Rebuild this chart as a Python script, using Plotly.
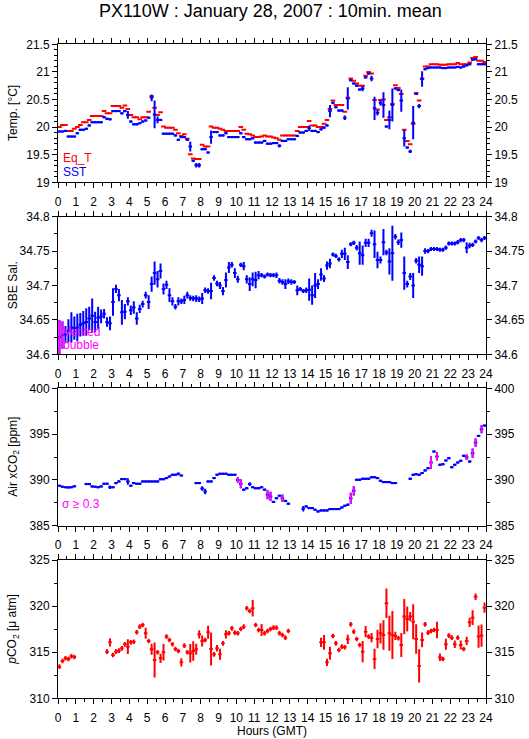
import plotly.graph_objects as go

# ---------------- data (10-min means, 144 slots) ----------------
HOURS = [(i + 0.5) / 6 for i in range(144)]

EQ_T = [
    20.00, 20.04, 20.04, 19.93, 19.93, 19.97,
    20.00, 20.04, 20.09, 20.09, 20.13, 20.20,
    20.20, 20.20, 20.20, 20.29, 20.25, 20.25,
    20.38, 20.38, 20.38, 20.35, 20.39, 20.33,
    20.22, 20.18, 20.18, 20.14, 20.18, 20.18,
    20.28, 20.56, 20.35, 20.22, 20.27, 20.01,
    19.99, 19.99, 19.99, 19.95, 19.89, 19.84,
    19.87, 19.79, 19.51, 19.43, 19.42, 19.42,
    19.68, 19.65, 19.65, 20.01, 19.99, 19.99,
    19.97, 19.95, 19.93, 19.93, 19.93, 19.93,
    19.93, 20.00, 19.95, 19.88, 19.87, 19.85,
    19.82, 19.82, 19.83, 19.85, 19.83, 19.83,
    19.81, 19.80, 19.77, 19.85, 19.85, 19.85,
    19.85, 19.85, 19.93, 20.00, 20.00, 20.00,
    20.11, 20.03, 20.03, 20.00, 20.00, 20.06,
    20.13, 20.33, 20.48, 20.40, 20.40, 20.40,
    20.28, 20.53, 20.88, 20.84, 20.79, 20.75,
    20.75, 20.93, 21.00, 20.97, 20.49, 20.32,
    20.49, 20.50, 20.13, 20.18, 20.42, 20.76,
    20.71, 20.60, 19.95, 19.75, 19.69, 20.06,
    20.62, 20.48, 20.88, 21.10, 21.10, 21.14,
    21.14, 21.14, 21.13, 21.13, 21.13, 21.14,
    21.14, 21.14, 21.16, 21.14, 21.14, 21.14,
    21.17, 21.25, 21.27, 21.20, 21.20, 21.18,
]

SST = [
    19.92, 19.92, 19.93, 19.83, 19.83, 19.83,
    19.89, 19.95, 19.95, 19.97, 20.03, 20.09,
    20.09, 20.09, 20.09, 20.18, 20.15, 20.14,
    20.29, 20.29, 20.29, 20.25, 20.29, 20.22,
    20.10, 20.05, 20.05, 20.07, 20.10, 20.12,
    20.17, 20.53, 20.23, 20.13, 20.13, 19.88,
    19.88, 19.88, 19.88, 19.85, 19.77, 19.82,
    19.82, 19.77, 19.65, 19.39, 19.31, 19.31,
    19.60, 19.60, 19.54, 19.82, 19.91, 19.91,
    19.85, 19.85, 19.89, 19.82, 19.82, 19.82,
    19.82, 19.89, 19.82, 19.78, 19.78, 19.80,
    19.72, 19.72, 19.72, 19.75, 19.70, 19.70,
    19.71, 19.71, 19.66, 19.75, 19.75, 19.78,
    19.78, 19.78, 19.84, 19.90, 19.90, 19.93,
    19.98, 19.93, 19.93, 19.91, 19.96, 19.99,
    20.03, 20.29, 20.44, 20.36, 20.30, 20.30,
    20.17, 20.52, 20.85, 20.79, 20.75, 20.68,
    20.70, 20.90, 20.97, 20.88, 20.34, 20.26,
    20.44, 20.40, 20.01, 20.13, 20.40, 20.70,
    20.67, 20.48, 19.80, 19.63, 19.56, 20.08,
    20.60, 20.38, 20.87, 21.05, 21.07, 21.08,
    21.08, 21.08, 21.08, 21.07, 21.07, 21.08,
    21.08, 21.08, 21.09, 21.08, 21.10, 21.12,
    21.14, 21.22, 21.23, 21.14, 21.14, 21.14,
]

SST_ERR = [
    0.02, 0.02, 0.02, 0.02, 0.02, 0.02,
    0.02, 0.02, 0.02, 0.02, 0.02, 0.02,
    0.02, 0.02, 0.02, 0.02, 0.02, 0.02,
    0.02, 0.02, 0.02, 0.02, 0.02, 0.07,
    0.02, 0.02, 0.02, 0.02, 0.02, 0.02,
    0.02, 0.06, 0.25, 0.06, 0.02, 0.02,
    0.02, 0.02, 0.02, 0.02, 0.02, 0.02,
    0.02, 0.02, 0.09, 0.02, 0.04, 0.04,
    0.02, 0.02, 0.02, 0.12, 0.02, 0.02,
    0.02, 0.02, 0.02, 0.02, 0.02, 0.02,
    0.02, 0.02, 0.02, 0.02, 0.02, 0.02,
    0.02, 0.02, 0.02, 0.02, 0.02, 0.02,
    0.02, 0.02, 0.03, 0.02, 0.02, 0.02,
    0.02, 0.02, 0.02, 0.02, 0.02, 0.02,
    0.05, 0.02, 0.02, 0.02, 0.02, 0.02,
    0.02, 0.11, 0.02, 0.02, 0.02, 0.02,
    0.04, 0.20, 0.02, 0.02, 0.02, 0.02,
    0.05, 0.02, 0.02, 0.05, 0.21, 0.05,
    0.05, 0.23, 0.02, 0.17, 0.30, 0.02,
    0.02, 0.20, 0.15, 0.02, 0.03, 0.30,
    0.02, 0.04, 0.14, 0.02, 0.02, 0.02,
    0.02, 0.02, 0.02, 0.02, 0.02, 0.02,
    0.02, 0.02, 0.02, 0.02, 0.02, 0.02,
    0.02, 0.02, 0.02, 0.02, 0.02, 0.02,
]

SAL = [
    34.625, 34.628, 34.629, 34.634, 34.639, 34.638,
    34.639, 34.643, 34.645, 34.647, 34.652, 34.656,
    34.647, 34.653, 34.655, 34.659, 34.647, 34.645,
    34.676, 34.695, 34.686, 34.661, 34.662, 34.677,
    34.664, 34.668, 34.652, 34.666, 34.673, 34.686,
    34.676, 34.702, 34.718, 34.709, 34.721, 34.695,
    34.701, 34.686, 34.677, 34.669, 34.677, 34.677,
    34.679, 34.686, 34.682, 34.681, 34.681, 34.680,
    34.681, 34.693, 34.692, 34.692, 34.711, 34.703,
    34.700, 34.692, 34.708, 34.726, 34.730, 34.718,
    34.709, 34.730, 34.728, 34.709, 34.702, 34.709,
    34.708, 34.715, 34.715, 34.713, 34.716, 34.715,
    34.715, 34.715, 34.707, 34.705, 34.702, 34.706,
    34.705, 34.705, 34.693, 34.695, 34.692, 34.693,
    34.694, 34.686, 34.700, 34.702, 34.716, 34.710,
    34.729, 34.732, 34.745, 34.743, 34.738, 34.746,
    34.746, 34.734, 34.760, 34.762, 34.755, 34.747,
    34.744, 34.762, 34.762, 34.776, 34.760, 34.737,
    34.737, 34.763, 34.748, 34.735, 34.747, 34.771,
    34.763, 34.766, 34.718, 34.702, 34.713, 34.700,
    34.736, 34.730, 34.728, 34.750, 34.750, 34.753,
    34.753, 34.753, 34.752, 34.752, 34.755, 34.761,
    34.761, 34.761, 34.763, 34.766, 34.766, 34.755,
    34.758, 34.759, 34.764, 34.769, 34.766, 34.769,
]

SAL_ERR = [
    0.025, 0.020, 0.012, 0.017, 0.022, 0.017,
    0.020, 0.017, 0.018, 0.020, 0.017, 0.025,
    0.015, 0.016, 0.010, 0.007, 0.007, 0.010,
    0.020, 0.006, 0.009, 0.018, 0.011, 0.006,
    0.007, 0.009, 0.009, 0.006, 0.005, 0.005,
    0.010, 0.011, 0.017, 0.012, 0.011, 0.008,
    0.006, 0.010, 0.006, 0.004, 0.006, 0.004,
    0.006, 0.005, 0.004, 0.004, 0.005, 0.004,
    0.008, 0.004, 0.004, 0.012, 0.004, 0.004,
    0.005, 0.006, 0.011, 0.008, 0.004, 0.007,
    0.005, 0.003, 0.006, 0.006, 0.010, 0.010,
    0.012, 0.006, 0.003, 0.003, 0.003, 0.003,
    0.003, 0.004, 0.004, 0.004, 0.007, 0.004,
    0.004, 0.003, 0.007, 0.003, 0.003, 0.004,
    0.016, 0.014, 0.018, 0.007, 0.009, 0.005,
    0.006, 0.007, 0.003, 0.003, 0.003, 0.006,
    0.009, 0.010, 0.003, 0.003, 0.004, 0.017,
    0.014, 0.006, 0.006, 0.005, 0.020, 0.012,
    0.005, 0.019, 0.004, 0.019, 0.040, 0.004,
    0.004, 0.011, 0.024, 0.005, 0.005, 0.018,
    0.004, 0.012, 0.014, 0.004, 0.003, 0.003,
    0.003, 0.003, 0.003, 0.003, 0.003, 0.003,
    0.003, 0.003, 0.003, 0.003, 0.003, 0.008,
    0.004, 0.003, 0.003, 0.003, 0.003, 0.003,
]
SAL_BUBBLE = [0, 1]  # slots flagged "vented bubble"

N = None
XCO2 = [
    389.36, 389.25, 389.20, 389.18, 389.20, 389.30,
    N, N, N, 389.54, 389.54, 389.29,
    389.25, 389.20, 389.29, 389.58, 389.58, 389.20,
    389.20, 389.65, 389.83, 390.09, 390.09, 389.83,
    389.36, 389.65, 389.58, 389.58, 389.83, 389.83,
    389.83, 389.83, 389.83, 389.83, 390.08, 390.08,
    390.20, 390.37, 390.55, 390.55, 390.67, 390.48,
    N, N, N, N, 389.65, 389.65,
    389.07, 388.74, 389.83, 389.83, 390.20, 390.55,
    390.67, 390.67, 390.67, 390.55, 390.55, 390.55,
    390.00, 389.58, 388.93, 389.10, 389.54, 389.20,
    389.10, 389.10, 389.20, 388.93, 388.38, 388.20,
    387.60, 388.00, 388.27, 388.00, 387.70, 387.40,
    N, N, N, N, 386.85, 387.10,
    386.92, 386.92, 386.74, 386.56, 386.67, 386.67,
    386.67, 386.82, 386.82, 386.82, 386.82, 387.00,
    387.18, 387.29, 388.00, 388.81, 390.01, 390.01,
    390.12, 390.12, 390.12, 390.30, 390.30, 390.20,
    389.90, 389.76, 389.76, 389.76, 389.65, 389.65,
    N, N, N, N, 390.12, 390.55,
    390.63, 390.55, 390.74, 391.03, 391.28, 391.90,
    393.10, 392.56, 391.65, 391.72, 392.12, 392.37,
    391.39, 391.65, 391.90, 392.08, 392.63, 392.48,
    392.00, 392.92, 394.08, 394.80, 395.53, 395.93,
]

XCO2_ERR = [
    0.12, 0.12, 0.12, 0.12, 0.12, 0.12,
    0.12, 0.12, 0.12, 0.12, 0.12, 0.12,
    0.12, 0.12, 0.12, 0.12, 0.12, 0.20,
    0.12, 0.12, 0.12, 0.12, 0.12, 0.35,
    0.12, 0.12, 0.12, 0.12, 0.12, 0.12,
    0.12, 0.12, 0.12, 0.12, 0.12, 0.12,
    0.12, 0.12, 0.12, 0.12, 0.15, 0.12,
    0.12, 0.12, 0.12, 0.12, 0.12, 0.12,
    0.25, 0.30, 0.12, 0.12, 0.12, 0.12,
    0.12, 0.12, 0.12, 0.12, 0.12, 0.12,
    0.30, 0.50, 0.12, 0.12, 0.20, 0.12,
    0.12, 0.12, 0.12, 0.12, 0.50, 0.50,
    0.12, 0.12, 0.12, 0.40, 0.12, 0.12,
    0.12, 0.12, 0.12, 0.12, 0.30, 0.12,
    0.12, 0.12, 0.12, 0.12, 0.12, 0.12,
    0.12, 0.12, 0.12, 0.12, 0.12, 0.12,
    0.12, 0.12, 0.60, 0.50, 0.12, 0.12,
    0.12, 0.12, 0.12, 0.12, 0.12, 0.12,
    0.12, 0.12, 0.12, 0.12, 0.12, 0.12,
    0.12, 0.12, 0.12, 0.12, 0.12, 0.12,
    0.12, 0.12, 0.12, 0.12, 0.12, 0.70,
    0.12, 0.45, 0.12, 0.12, 0.12, 0.12,
    0.12, 0.12, 0.12, 0.12, 0.12, 0.30,
    0.12, 0.50, 0.45, 0.12, 0.45, 0.12,
]
XCO2_SIGMA = [60, 61, 70, 71, 75, 98, 99, 125, 127, 137, 139, 140, 142]  # sigma >= 0.3

PCO2 = [
    313.43, 314.05, 314.34, 314.27, 314.56, 314.48,
    N, N, N, N, N, N,
    N, N, N, N, 315.06, 316.07,
    314.70, 315.06, 315.17, 315.42, 315.85, 315.60,
    316.07, 316.14, 317.16, 317.77, 317.95, 317.05,
    316.22, 315.31, 314.16, 314.99, 314.34, 314.99,
    316.69, 316.33, 315.86, 315.35, 315.13, 313.90,
    315.71, 314.99, 314.88, 315.13, 315.31, 316.94,
    316.22, 316.33, 317.16, 315.35, 314.77, 315.42,
    314.77, 315.96, 316.94, 317.05, 317.59, 317.12,
    317.05, 317.52, 317.77, 319.76, 319.47, 319.76,
    317.95, 317.41, 317.41, 317.05, 317.30, 317.52,
    317.66, 317.66, 317.05, 316.87, 316.58, 317.30,
    N, N, N, N, N, N,
    N, N, N, N, 316.07, 316.07,
    313.90, 314.88, 316.76, 315.96, 315.24, 315.60,
    315.53, 316.40, 318.02, 317.23, 316.43, 315.78,
    315.06, 317.23, 316.69, 316.58, 314.27, 316.43,
    317.05, 316.87, 320.30, 317.05, 316.87, 316.76,
    316.51, 315.78, 318.86, 318.60, 318.86, 318.31,
    316.43, 313.51, 316.33, 318.02, 317.12, 317.30,
    317.41, 317.41, 314.45, 314.27, 315.86, 316.80,
    316.58, 315.86, 316.58, 315.78, 315.35, 316.22,
    318.24, 318.75, 321.02, 316.69, 316.80, 319.83,
]

PCO2_ERR = [
    0.25, 0.25, 0.25, 0.25, 0.25, 0.25,
    0.25, 0.25, 0.25, 0.25, 0.25, 0.25,
    0.25, 0.25, 0.25, 0.25, 0.25, 0.45,
    0.25, 0.25, 0.25, 0.25, 0.25, 0.80,
    0.25, 0.25, 0.25, 0.25, 0.25, 0.60,
    0.25, 0.60, 1.90, 0.25, 0.50, 0.90,
    0.25, 0.25, 0.25, 0.25, 0.25, 0.45,
    0.25, 0.25, 1.00, 1.05, 0.60, 0.45,
    0.60, 0.25, 0.70, 1.80, 0.25, 0.35,
    0.60, 0.25, 0.45, 0.25, 0.25, 0.25,
    0.25, 0.25, 0.25, 0.25, 0.25, 0.90,
    0.25, 0.25, 0.65, 0.25, 0.25, 0.25,
    0.25, 0.25, 0.25, 0.25, 0.25, 0.25,
    0.25, 0.25, 0.25, 0.25, 0.25, 0.25,
    0.25, 0.25, 0.25, 0.25, 0.50, 0.80,
    0.40, 0.70, 0.25, 0.25, 0.25, 0.25,
    0.25, 0.50, 0.25, 0.25, 0.25, 0.25,
    1.15, 0.60, 0.25, 0.50, 1.10, 1.00,
    1.10, 1.60, 1.60, 1.90, 2.60, 0.45,
    0.25, 1.30, 1.90, 1.35, 0.50, 1.90,
    1.60, 1.80, 0.80, 0.25, 0.25, 0.25,
    0.25, 0.90, 0.40, 0.25, 0.60, 0.25,
    0.25, 0.40, 0.25, 0.50, 0.25, 0.45,
    0.50, 0.80, 0.35, 1.20, 1.20, 0.55,
]

X_TICKS = list(range(0, 25))
Y_RANGES = [(19, 21.5), (34.6, 34.8), (385, 400), (310, 325)]
Y_DTICK = [0.5, 0.05, 5, 5]
Y_MINOR = [0.1, 0.025, 2.5, 2.5]
Y_TITLES = ["Temp. [°C]", "SBE Sal.", "Air xCO<sub>2</sub> [ppm]",
            "<i>p</i>CO<sub>2</sub> [μ atm]"]

# ---------------- layout helpers ----------------
W, H = 529, 739
L, R = 58.3, 485.7
PANELS = [(44.3, 182.3), (216.7, 354.3), (388.3, 525.7), (560.0, 698.3)]
FONT = "Liberation Sans, Arial, Helvetica, sans-serif"
BLUE, RED, MAG = "#0000ff", "#ff0000", "#ff00ff"


def paper_x(px):
    return (px - L) / (R - L)


def paper_y(py):
    return 1 - py / H


fig = go.Figure()


def bars(xs, ys, err, color, k, hw, show_x=True):
    fig.add_trace(go.Scatter(
        x=xs, y=ys, mode="markers",
        marker=dict(size=1, color=color, opacity=0),
        error_x=dict(type="constant", value=hw, color=color, thickness=2,
                     width=0, visible=show_x),
        error_y=dict(type="data", array=err if err is not None else [0] * len(xs),
                     color=color, thickness=2, width=0,
                     visible=err is not None),
        xaxis="x" if k == 1 else f"x{k}",
        yaxis="y" if k == 1 else f"y{k}",
        showlegend=False, hoverinfo="skip",
    ))


# panel 1
bars(HOURS, EQ_T, None, RED, 1, 0.13)
bars(HOURS, SST, SST_ERR, BLUE, 1, 0.1)
# panel 2
bars(HOURS, SAL, SAL_ERR, BLUE, 2, 0.1)
bars([HOURS[i] for i in SAL_BUBBLE], [SAL[i] for i in SAL_BUBBLE],
     [SAL_ERR[i] for i in SAL_BUBBLE], MAG, 2, 0.1, show_x=False)
# panel 3
bars(HOURS, XCO2, XCO2_ERR, BLUE, 3, 0.1)
bars([HOURS[i] for i in XCO2_SIGMA], [XCO2[i] for i in XCO2_SIGMA],
     [XCO2_ERR[i] for i in XCO2_SIGMA], MAG, 3, 0.1, show_x=False)
# panel 4
bars(HOURS, PCO2, PCO2_ERR, RED, 4, 0.1)

# invisible traces so the right-hand (mirror) axes are drawn
for k in range(1, 5):
    fig.add_trace(go.Scatter(
        x=[None], y=[None], mode="markers",
        xaxis="x" if k == 1 else f"x{k}", yaxis=f"y{k + 4}",
        showlegend=False, hoverinfo="skip"))

layout = dict(
    width=W, height=H,
    margin=dict(l=L, r=W - R, t=0, b=0, autoexpand=False),
    paper_bgcolor="white", plot_bgcolor="white",
    font=dict(family=FONT, size=12, color="black"),
    showlegend=False,
)

axis_common = dict(showgrid=False, zeroline=False, showline=True,
                   linecolor="black", linewidth=1, ticks="outside",
                   tickcolor="black", tickwidth=1, automargin=False,
                   tickfont=dict(family=FONT, size=12, color="black"))

for k in range(1, 5):
    top, bot = PANELS[k - 1]
    dom = [paper_y(bot), paper_y(top)]
    xs = "" if k == 1 else str(k)
    layout[f"xaxis{xs}"] = dict(
        axis_common, domain=[0, 1], range=[0, 24], anchor=f"y{xs}",
        tickmode="array", tickvals=X_TICKS, ticklen=5, mirror="ticks",
        minor=dict(dtick=0.5, tick0=0, ticks="outside", ticklen=3,
                   tickcolor="black", tickwidth=1),
        ticklabelstandoff=3,
    )
    lo, hi = Y_RANGES[k - 1]
    yax = dict(
        axis_common, range=[lo, hi], tick0=lo,
        dtick=Y_DTICK[k - 1], ticklen=5,
        minor=dict(dtick=Y_MINOR[k - 1], tick0=lo, ticks="outside",
                   ticklen=3, tickcolor="black", tickwidth=1),
    )
    layout[f"yaxis{xs}"] = dict(yax, domain=dom, anchor=f"x{xs}", side="left")
    layout[f"yaxis{k + 4}"] = dict(yax, anchor=f"x{xs}", side="right",
                                   overlaying=f"y{xs}")

annotations = []
for k in range(4):
    top, bot = PANELS[k]
    annotations.append(dict(
        text=Y_TITLES[k], xref="paper", yref="paper",
        x=paper_x(14), y=paper_y((top + bot) / 2), textangle=-90,
        showarrow=False, xanchor="center", yanchor="middle",
        font=dict(family=FONT, size=12, color="black")))

annotations += [
    dict(text="PX110W : January 28, 2007 : 10min. mean", xref="paper",
         yref="paper", x=paper_x(271), y=paper_y(11), showarrow=False,
         xanchor="center", yanchor="middle",
         font=dict(family=FONT, size=18, color="black")),
    dict(text="Hours (GMT)", xref="paper", yref="paper", x=paper_x(272),
         y=paper_y(731), showarrow=False, xanchor="center",
         yanchor="middle", font=dict(family=FONT, size=12, color="black")),
    dict(text="Eq_T", xref="paper", yref="paper", x=paper_x(61),
         y=paper_y(158), showarrow=False, xanchor="left", yanchor="middle",
         font=dict(family=FONT, size=12, color=RED)),
    dict(text="SST", xref="paper", yref="paper", x=paper_x(61),
         y=paper_y(172), showarrow=False, xanchor="left", yanchor="middle",
         font=dict(family=FONT, size=12, color=BLUE)),
    dict(text="Vented", xref="paper", yref="paper", x=paper_x(61),
         y=paper_y(332), showarrow=False, xanchor="left", yanchor="middle",
         font=dict(family=FONT, size=12, color=MAG)),
    dict(text="bubble", xref="paper", yref="paper", x=paper_x(61),
         y=paper_y(345), showarrow=False, xanchor="left", yanchor="middle",
         font=dict(family=FONT, size=12, color=MAG)),
    dict(text="σ ≥ 0.3", xref="paper", yref="paper", x=paper_x(60),
         y=paper_y(504), showarrow=False, xanchor="left", yanchor="middle",
         font=dict(family=FONT, size=12, color=MAG)),
]
layout["annotations"] = annotations

fig.update_layout(**layout)
fig.write_html("out.html",
               config={"displayModeBar": False, "staticPlot": True},
               post_script="document.body.style.margin='0px';"
                           "document.body.style.padding='0px';")
